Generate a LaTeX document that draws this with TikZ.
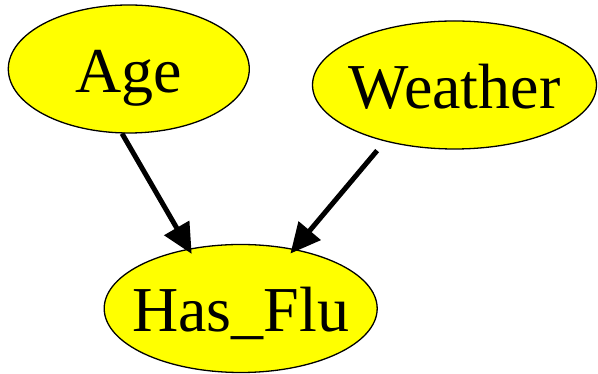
\documentclass[tikz,border=0pt]{standalone}
\usepackage{fontspec}
\setmainfont{Liberation Serif}
\usetikzlibrary{arrows.meta,shapes.geometric}
\definecolor{nodeyellow}{RGB}{255,255,0}
\begin{document}
\begin{tikzpicture}[x=1pt,y=1pt,every node/.style={font=\fontsize{64}{70}\selectfont}]
\useasboundingbox (0,0) rectangle (598,374);
\tikzset{var/.style={ellipse,draw,fill=nodeyellow,line width=1.3pt,inner xsep=-20pt,inner ysep=0pt,text height=47pt,text depth=0pt},
  link/.style={line width=5pt,-{Triangle[length=30pt,width=28pt]}}}
\node[var,minimum width=241pt,minimum height=128pt] (age) at (128.8,305) {Age};
\node[var,minimum width=284pt,minimum height=128pt] (weather) at (454.5,289) {Weather};
\node[var,minimum width=273pt,minimum height=128pt] (flu) at (240.7,65.5) {Has\_Flu};
\draw[link,shorten >=-6pt] (age.-96) -- (flu.131);
\draw[link,shorten <=12pt,shorten >=-6pt] (weather.219.6) -- (flu.48.5);
\end{tikzpicture}
\end{document}
